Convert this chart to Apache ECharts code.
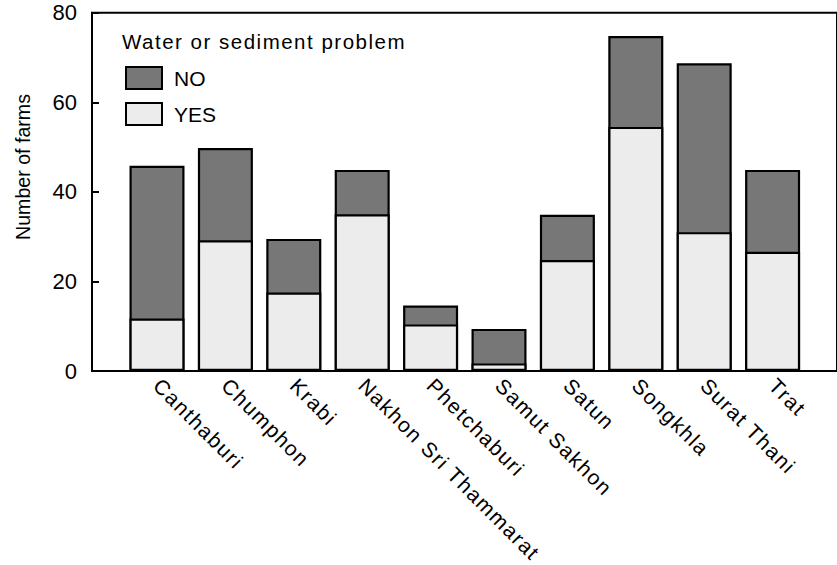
<!DOCTYPE html>
<html>
<head>
<meta charset="utf-8">
<script src="https://cdn.jsdelivr.net/npm/echarts@6/dist/echarts.min.js"></script>
<style>
html,body{margin:0;padding:0;background:#fff;}
#chart{width:837px;height:565px;}
</style>
</head>
<body>
<div id="chart"></div>
<script>
var categories = ['Canthaburi', 'Chumphon', 'Krabi', 'Nakhon Sri Thammarat', 'Phetchaburi', 'Samut Sakhon', 'Satun', 'Songkhla', 'Surat Thani', 'Trat'];
var yesValues = [11.7, 29.2, 17.5, 35, 10.4, 1.7, 24.8, 54.5, 31, 26.6];
var noValues = [34.1, 20.6, 12, 9.9, 4.2, 7.7, 10.1, 20.3, 37.7, 18.3];
var yTicks = [0, 20, 40, 60, 80];
var legendTitle = 'Water or sediment problem';
var yName = 'Number of farms';

var FONT = "'Liberation Sans', Arial, Helvetica, sans-serif";
var chart = echarts.init(document.getElementById('chart'), null, {renderer: 'svg'});

// stacked top of each bar (YES + NO), drawn behind the YES bar so the boundary is one line
var stackTops = yesValues.map(function (v, i) { return +(v + noValues[i]).toFixed(2); });

var option = {
  animation: false,
  backgroundColor: '#fff',
  tooltip: {show: false},
  title: {
    text: legendTitle,
    left: 122, top: 31, padding: 0,
    textStyle: {fontFamily: FONT, fontSize: 20.5, fontWeight: 'normal', color: '#000'}
  },
  legend: {
    orient: 'vertical',
    left: 125, top: 66, padding: 0,
    itemWidth: 36, itemHeight: 22, itemGap: 12,
    icon: 'rect',
    data: ['NO', 'YES'],
    textStyle: {fontFamily: FONT, fontSize: 21, color: '#000', padding: [0, 0, 0, 7]}
  },
  graphic: [{
    type: 'text',
    x: 23, y: 167,
    rotation: Math.PI / 2,
    style: {text: yName, font: "19.6px 'Liberation Sans', Arial, sans-serif", fill: '#000', align: 'center', verticalAlign: 'middle'}
  }],
  grid: [
    {left: 92, right: -10, top: 12.7, bottom: 194, show: true, borderColor: '#000', borderWidth: 2, backgroundColor: 'transparent'},
    {left: 122.8, right: 30.2, top: 12.7, bottom: 194}
  ],
  xAxis: [
    {gridIndex: 0, type: 'value', min: 0, max: 1, axisLine: {show: false}, axisTick: {show: false}, axisLabel: {show: false}, splitLine: {show: false}},
    {gridIndex: 1, type: 'category', data: categories,
     axisLine: {show: false}, axisTick: {show: false}, splitLine: {show: false},
     axisLabel: {rotate: -45, margin: 11, interval: 0, fontFamily: FONT, fontSize: 21, color: '#000'}}
  ],
  yAxis: [
    {gridIndex: 0, type: 'value', min: yTicks[0], max: yTicks[yTicks.length - 1], interval: 20,
     axisLine: {show: true, lineStyle: {color: '#000', width: 2}},
     axisTick: {show: true, inside: true, length: 7, lineStyle: {color: '#000', width: 2}},
     axisLabel: {margin: 15, fontFamily: FONT, fontSize: 22, color: '#000'},
     splitLine: {show: false}},
    {gridIndex: 1, type: 'value', min: 0, max: 80, show: false, splitLine: {show: false}}
  ],
  series: [
    {name: 'NO', type: 'bar', xAxisIndex: 1, yAxisIndex: 1, barWidth: 55, barGap: '-100%', z: 2, data: stackTops,
     itemStyle: {color: '#777777', borderColor: '#000', borderWidth: 2.2}},
    {name: 'YES', type: 'bar', xAxisIndex: 1, yAxisIndex: 1, barWidth: 55, barGap: '-100%', z: 3, data: yesValues,
     itemStyle: {color: '#ececec', borderColor: '#000', borderWidth: 2.2}}
  ]
};
chart.setOption(option);

function spaceText() {
  var texts = document.querySelectorAll('#chart text');
  for (var i = 0; i < texts.length; i++) {
    var t = texts[i].textContent;
    if (t === legendTitle) texts[i].style.letterSpacing = '1.5px';
    else if (categories.indexOf(t) >= 0) texts[i].style.letterSpacing = '1.5px';
  }
}
spaceText();
chart.on('finished', spaceText);
</script>
</body>
</html>
